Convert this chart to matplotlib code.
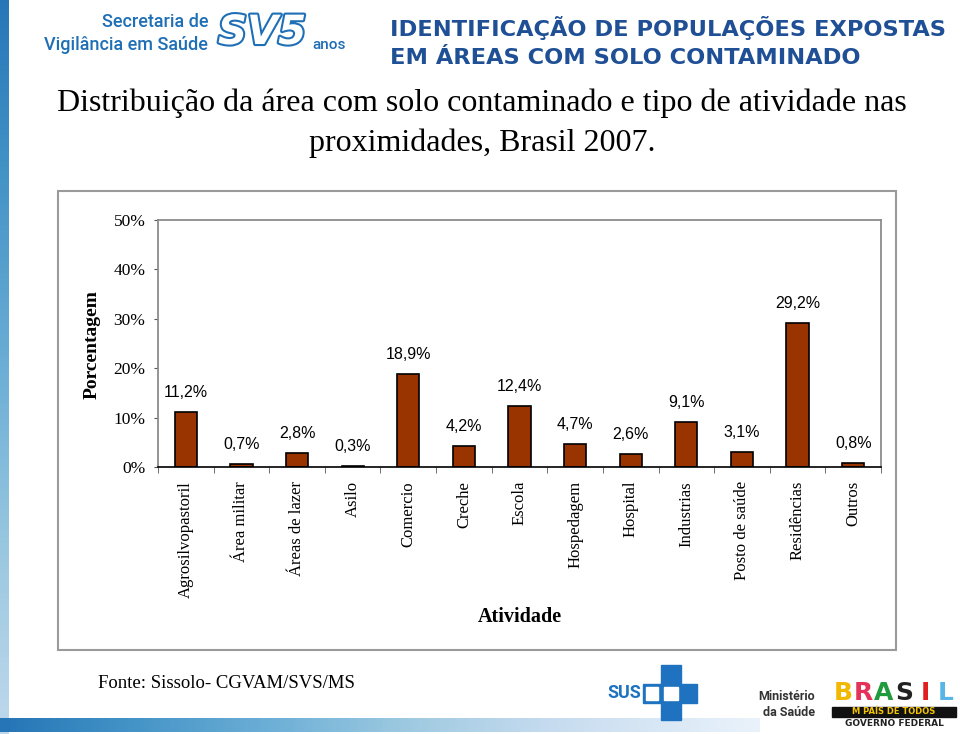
import matplotlib.pyplot as plt
import matplotlib.patheffects as pe
from matplotlib.patches import Rectangle
import numpy as np

# données
atividades = ['Agrosilvopastoril', 'Área militar', 'Áreas de lazer', 'Asilo',
              'Comercio', 'Creche', 'Escola', 'Hospedagem', 'Hospital',
              'Industrias', 'Posto de saúde', 'Residências', 'Outros']
porcentagem = [11.2, 0.7, 2.8, 0.3, 18.9, 4.2, 12.4, 4.7, 2.6, 9.1, 3.1, 29.2, 0.8]
rotulos = ['11,2%', '0,7%', '2,8%', '0,3%', '18,9%', '4,2%', '12,4%', '4,7%',
           '2,6%', '9,1%', '3,1%', '29,2%', '0,8%']
yticks = [0, 10, 20, 30, 40, 50]

W, H = 960, 734
fig = plt.figure(figsize=(W / 100, H / 100), dpi=100)
fig.patch.set_facecolor('white')


def fx(px):
    return px / W


def fy(py):
    return 1 - py / H


# bande bleue à gauche et en bas (décor de la diapositive)
grad = np.linspace(0, 1, 256).reshape(-1, 1)
bg = fig.add_axes([0, 0, fx(9), 1])
bg.imshow(grad, aspect='auto', cmap='Blues_r', vmin=-0.6, vmax=1.6)
bg.axis('off')
bb = fig.add_axes([fx(0), fy(732), fx(760), 14 / H])
bb.imshow(grad.T, aspect='auto', cmap='Blues_r', vmin=-0.4, vmax=1.1)
bb.axis('off')

# en-tête
fig.text(fx(208), fy(22), 'Secretaria de', ha='right', va='center',
         fontsize=13, color='#1E6FB5', family='Roboto', weight='medium')
fig.text(fx(208), fy(45), 'Vigilância em Saúde', ha='right', va='center',
         fontsize=13, color='#1E6FB5', family='Roboto', weight='medium')
fig.text(fx(218), fy(33), 'SV5', ha='left', va='center', fontsize=29,
         color='white', weight='bold', style='italic',
         path_effects=[pe.withStroke(linewidth=3, foreground='#1E6FB5')])
fig.text(fx(312), fy(45), 'anos', ha='left', va='center', fontsize=11,
         color='#1E6FB5', family='Roboto', weight='medium')
fig.text(fx(390), fy(28), 'IDENTIFICAÇÃO DE POPULAÇÕES EXPOSTAS', ha='left',
         va='center', fontsize=16.2, color='#1F4F95', weight='bold')
fig.text(fx(390), fy(58), 'EM ÁREAS COM SOLO CONTAMINADO', ha='left',
         va='center', fontsize=16.2, color='#1F4F95', weight='bold')

# titre
fig.text(fx(482), fy(103), 'Distribuição da área com solo contaminado e tipo de atividade nas',
         ha='center', va='center', fontsize=23, family='Liberation Serif')
fig.text(fx(482), fy(143), 'proximidades, Brasil 2007.',
         ha='center', va='center', fontsize=23, family='Liberation Serif')

# cadre du graphique
fig.patches.append(Rectangle((fx(58), fy(650)), fx(896 - 58), (650 - 191) / H,
                             transform=fig.transFigure, fill=False,
                             edgecolor='#9a9a9a', linewidth=1.5))

ax = fig.add_axes([fx(158), fy(467), fx(881 - 158), (467 - 220) / H])
x = np.arange(len(atividades))
ax.bar(x, porcentagem, width=0.4, color='#993300', edgecolor='black', linewidth=1.2)
for xi, v, r in zip(x, porcentagem, rotulos):
    ax.annotate(r, (xi, v), xytext=(0, 14), textcoords='offset points',
                ha='center', va='center', fontsize=11.5, family='Liberation Sans')

ax.set_xlim(-0.5, len(atividades) - 0.5)
ax.set_ylim(0, 50)
ax.set_yticks(yticks)
ax.set_yticklabels([f'{t}%' for t in yticks], family='Liberation Serif', fontsize=12.5)
ax.set_xticks(x)
ax.set_xticklabels(atividades, rotation=90, family='Liberation Serif', fontsize=12, va='top')
ax.set_xticks(np.arange(len(atividades) + 1) - 0.5, minor=True)
ax.tick_params(axis='x', which='major', length=0, pad=10)
ax.tick_params(axis='x', which='minor', length=4, direction='out', color='#555555')
ax.tick_params(axis='y', length=3, direction='out', pad=6, color='#555555')
for s in ['top', 'right', 'left']:
    ax.spines[s].set_color('#8c8c8c')
    ax.spines[s].set_linewidth(1.3)
ax.spines['bottom'].set_color('black')
ax.spines['bottom'].set_linewidth(1.2)

fig.text(fx(92), fy(345), 'Porcentagem', rotation=90, ha='center', va='center',
         fontsize=14, weight='bold', family='Liberation Serif')
fig.text(fx(520), fy(617), 'Atividade', ha='center', va='center',
         fontsize=14.5, weight='bold', family='Liberation Serif')

# pied de page
fig.text(fx(98), fy(683), 'Fonte: Sissolo- CGVAM/SVS/MS', ha='left', va='center',
         fontsize=13.5, family='Liberation Serif')

# logo SUS
azul = '#1E72C0'
fig.patches.append(Rectangle((fx(661), fy(720)), fx(20), 55 / H, transform=fig.transFigure, color=azul))
fig.patches.append(Rectangle((fx(643), fy(703)), fx(54), 19 / H, transform=fig.transFigure, color=azul))
fig.patches.append(Rectangle((fx(646), fy(700)), fx(12), 13 / H, transform=fig.transFigure, color='white'))
fig.patches.append(Rectangle((fx(664), fy(700)), fx(14), 13 / H, transform=fig.transFigure, color='white'))
fig.text(fx(624), fy(693), 'SUS', ha='center', va='center', fontsize=13,
         weight='bold', color=azul, family='Roboto')

fig.text(fx(815), fy(697), 'Ministério', ha='right', va='center', fontsize=9,
         weight='bold', color='#333333', family='Roboto')
fig.text(fx(815), fy(712), 'da Saúde', ha='right', va='center', fontsize=9,
         weight='bold', color='#333333', family='Roboto')

# logo Brasil
letras = ['B', 'R', 'A', 'S', 'I', 'L']
cores = ['#F2B800', '#E4325A', '#1F9A3C', '#222222', '#E02020', '#58B6E6']
for i, (l, c) in enumerate(zip(letras, cores)):
    fig.text(fx(843 + i * 20.5), fy(693), l, ha='center', va='center',
             fontsize=18, weight='bold', color=c)
fig.patches.append(Rectangle((fx(832), fy(717)), fx(124), 10 / H, transform=fig.transFigure, color='#111111'))
fig.text(fx(894), fy(712), 'M PAÍS DE TODOS', ha='center', va='center',
         fontsize=6, weight='bold', color='#F2C500')
fig.text(fx(894), fy(724), 'GOVERNO FEDERAL', ha='center', va='center',
         fontsize=6.5, weight='bold', color='#222222')

fig.savefig('out.png', dpi=100)
